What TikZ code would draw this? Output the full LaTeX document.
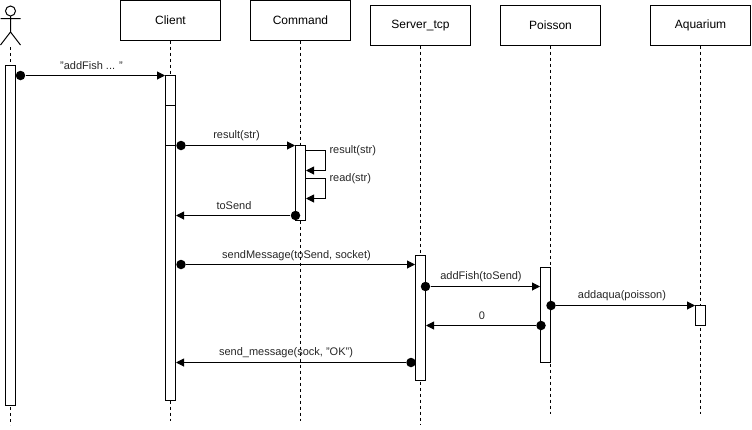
\documentclass[tikz,border=0pt]{standalone}
\usepackage{fontspec}
\setmainfont{Liberation Sans}
\usetikzlibrary{arrows.meta}
\tikzset{
    lifebox/.style={draw, fill=white, minimum width=100pt, minimum height=40pt, inner sep=0pt, outer sep=0pt, font=\fontsize{12}{14}\selectfont},
    bar/.style={draw, fill=white, minimum width=10pt, inner sep=0pt, outer sep=0pt},
    lifeline/.style={dash pattern=on 3pt off 3pt},
    msg/.style={-{Triangle[length=8pt,width=8pt]}},
    dot/.style={circle, fill=black, minimum size=9.5pt, inner sep=0pt},
    lbl/.style={font=\fontsize{11}{13}\selectfont, text=black!85, inner sep=0pt}
}
\begin{document}
\begin{tikzpicture}[x=1pt, y=-1pt, line width=1pt]
    \useasboundingbox (0,0) rectangle (752,429);

    % Actor
    \draw (10.5,11) circle (5);
    \draw (10.5,16) -- (10.5,32) (0.5,18.5) -- (20.5,18.5) (0.5,45) -- (10.5,32) -- (20.5,45);
    \coordinate (actorfoot) at (10.5,47);

    % Boxes
    \node[lifebox, anchor=north] (client) at (170.5,0.5) {Client};
    \node[lifebox, anchor=north] (command) at (300.5,0.5) {Command};
    \node[lifebox, anchor=north] (server) at (420.5,5.5) {Server\_tcp};
    \node[lifebox, anchor=north] (poisson) at (550.5,5.5) {Poisson};
    \node[lifebox, anchor=north] (aquarium) at (700.5,5.5) {Aquarium};

    % Lifelines
    \coordinate (actorend) at (10.5,425);
    \coordinate (clientend) at (170.5,421);
    \coordinate (commandend) at (300.5,421);
    \coordinate (serverend) at (420.5,425);
    \coordinate (poissonend) at (550.5,414);
    \coordinate (aquariumend) at (700.5,414);
    \draw[lifeline] (actorfoot) -- (actorend);
    \draw[lifeline] (client.south) -- (clientend);
    \draw[lifeline] (command.south) -- (commandend);
    \draw[lifeline] (server.south) -- (serverend);
    \draw[lifeline] (poisson.south) -- (poissonend);
    \draw[lifeline] (aquarium.south) -- (aquariumend);

    % Activation bars
    \node[bar, minimum height=340pt, anchor=north] (actorbar) at (10.5,65.5) {};
    \node[bar, minimum height=325pt, anchor=north] (clientbar) at (170.5,75.5) {};
    \node[bar, minimum height=75pt, anchor=north] (commandbar) at (300.5,145.5) {};
    \node[bar, minimum height=125pt, anchor=north] (serverbar) at (420.5,255.5) {};
    \node[bar, minimum height=95pt, anchor=north] (poissonbar) at (545.5,267.5) {};
    \node[bar, minimum height=20pt, anchor=north] (aquariumbar) at (700.5,305.5) {};
    \draw (165.5,105.5) -- (175.5,105.5);
    \draw (165.5,145.5) -- (175.5,145.5);

    % Messages
    \node[dot] (addfishfrom) at (20.5,75.5) {};
    \coordinate (addfishto) at (165,75.5);
    \draw[msg] (addfishfrom) -- (addfishto);
    \node[lbl] (addfishlbl) at (91.5,66) {"addFish ... "};

    \node[dot] (resultfrom) at (181,145.5) {};
    \coordinate (resultto) at (295,145.5);
    \draw[msg] (resultfrom) -- (resultto);
    \node[lbl] (resultlbl) at (236.5,136) {result(str)};

    \coordinate (selfaout) at (305.5,150.5);
    \coordinate (selfain) at (306,170.5);
    \draw[msg] (selfaout) -- (325.5,150.5) -- (325.5,170.5) -- (selfain);
    \node[lbl, anchor=west] (selfalbl) at (329,151) {result(str)};

    \coordinate (selfbout) at (305.5,178.5);
    \coordinate (selfbin) at (306,198.5);
    \draw[msg] (selfbout) -- (325.5,178.5) -- (325.5,198.5) -- (selfbin);
    \node[lbl, anchor=west] (selfblbl) at (329,179) {read(str)};

    \node[dot] (tosendfrom) at (295.5,215.5) {};
    \coordinate (tosendto) at (176,215.5);
    \draw[msg] (tosendfrom) -- (tosendto);
    \node[lbl] (tosendlbl) at (234,206) {toSend};

    \node[dot] (sendfrom) at (181,264.5) {};
    \coordinate (sendto) at (415,264.5);
    \draw[msg] (sendfrom) -- (sendto);
    \node[lbl] (sendlbl) at (296.5,256) {sendMessage(toSend, socket)};

    \node[dot] (tofishfrom) at (425.5,286.5) {};
    \coordinate (tofishto) at (540,286.5);
    \draw[msg] (tofishfrom) -- (tofishto);
    \node[lbl] (tofishlbl) at (481,277) {addFish(toSend)};

    \node[dot] (aquafrom) at (551,305.5) {};
    \coordinate (aquato) at (695,305.5);
    \draw[msg] (aquafrom) -- (aquato);
    \node[lbl] (aqualbl) at (622,296) {addaqua(poisson)};

    \node[dot] (zerofrom) at (541,325.5) {};
    \coordinate (zeroto) at (426,325.5);
    \draw[msg] (zerofrom) -- (zeroto);
    \node[lbl] (zerolbl) at (482,316) {0};

    \node[dot] (okfrom) at (411,362.5) {};
    \coordinate (okto) at (176,362.5);
    \draw[msg] (okfrom) -- (okto);
    \node[lbl] (oklbl) at (286,353) {send\_message(sock, "OK")};
\end{tikzpicture}
\end{document}
